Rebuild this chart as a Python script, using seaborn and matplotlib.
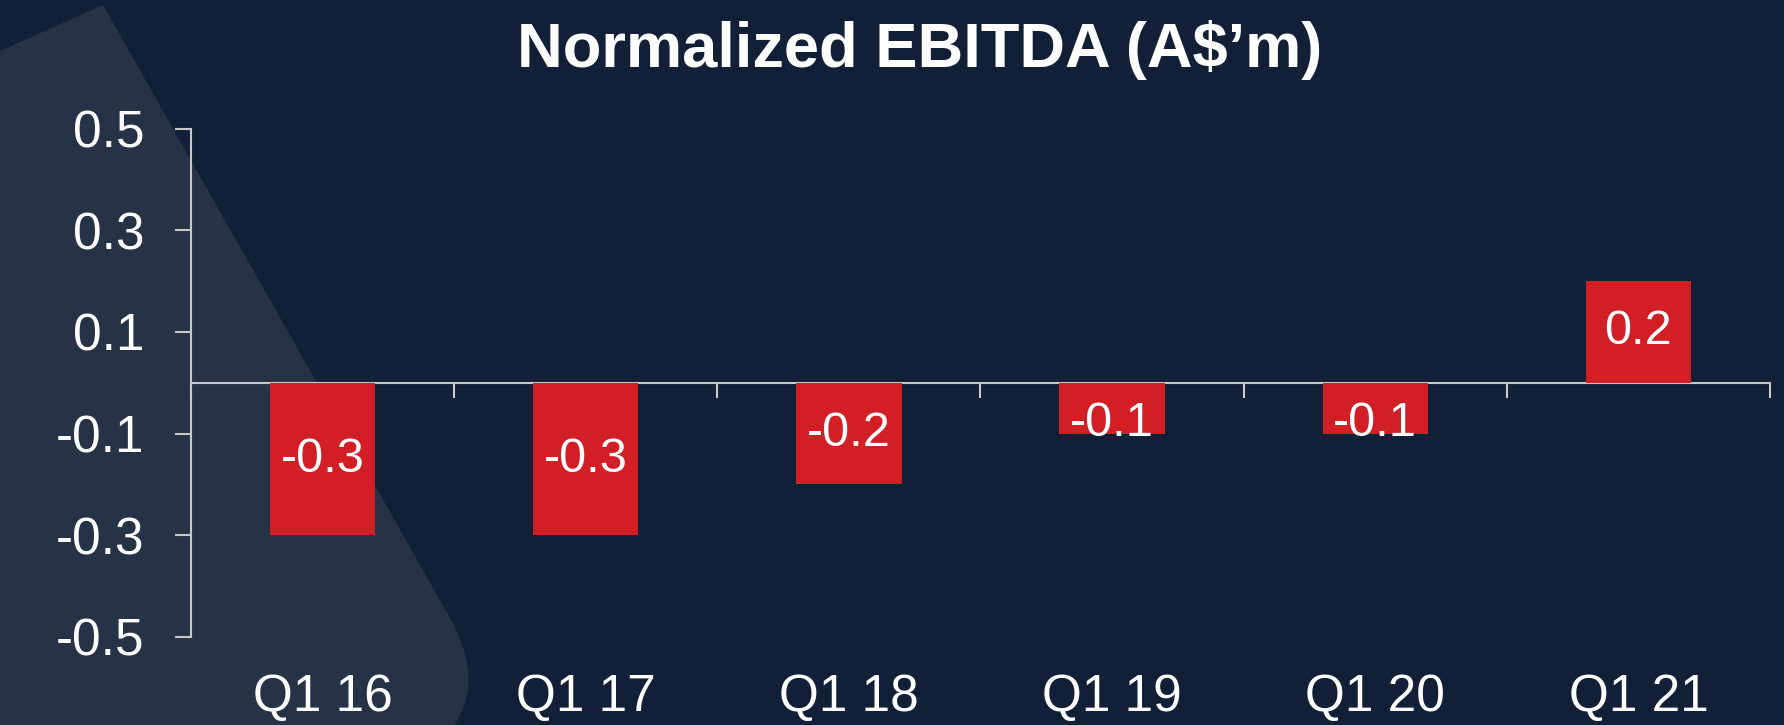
import matplotlib
matplotlib.use("Agg")
import matplotlib.pyplot as plt
import seaborn as sns
from matplotlib.path import Path
from matplotlib.patches import PathPatch

# Chart data
quarters = ["Q1 16", "Q1 17", "Q1 18", "Q1 19", "Q1 20", "Q1 21"]
ebitda = [-0.3, -0.3, -0.2, -0.1, -0.1, 0.2]
ytick_values = [-0.5, -0.3, -0.1, 0.1, 0.3, 0.5]
title = "Normalized EBITDA (A$\u2019m)"

bg = "#122037"
shape_col = "#263347"
bar_col = "#d21f26"
axis_col = "#c8c8c8"

sns.set_theme(style="white")
plt.rcParams["font.family"] = ["Liberation Sans", "DejaVu Sans"]
plt.rcParams["axes.unicode_minus"] = False

W, H = 1784, 725
fig = plt.figure(figsize=(W / 100, H / 100), dpi=100, facecolor=bg)

# lighter decorative shape in the top-left corner (pixel coords -> figure coords)
def fp(x, y):
    return (x / W, 1 - y / H)

verts = [fp(0, 51), fp(103, 5), fp(450, 618), fp(478, 668), fp(464, 706),
         fp(455, 725), fp(0, 725), fp(0, 51)]
codes = [Path.MOVETO, Path.LINETO, Path.LINETO, Path.CURVE3, Path.CURVE3,
         Path.LINETO, Path.LINETO, Path.CLOSEPOLY]
fig.patches.append(PathPatch(Path(verts, codes), transform=fig.transFigure,
                             facecolor=shape_col, edgecolor="none", zorder=-1))

ax = fig.add_axes([191 / W, 1 - 637 / H, (1770 - 191) / W, (637 - 128.5) / H])
ax.set_facecolor("none")
ax.set_zorder(1)

sns.barplot(x=quarters, y=ebitda, color=bar_col, saturation=1, width=0.4,
            linewidth=0, ax=ax, zorder=2)

ax.set_ylim(-0.5, 0.5)
ax.set_xlim(-0.5, len(quarters) - 0.5)
ax.set_xlabel("")
ax.set_ylabel("")

# y axis
ax.set_yticks(ytick_values)
ax.set_yticklabels([f"{v:.1f}" for v in ytick_values])
for side in ["top", "right", "bottom"]:
    ax.spines[side].set_visible(False)
ax.spines["left"].set_color(axis_col)
ax.spines["left"].set_linewidth(1.5)
ax.tick_params(axis="y", direction="out", length=11.5, width=1.5, color=axis_col,
               pad=22, labelsize=37, labelcolor="white", left=True)

# category labels along the bottom
ax.tick_params(axis="x", length=0, pad=26, labelsize=37, labelcolor="white")

# zero line with boundary ticks
sec = ax.secondary_xaxis(0.5)
sec.set_alignment("bottom")
sec.set_xticks([i - 0.5 for i in range(len(quarters) + 1)])
sec.set_xticklabels([])
sec.spines["bottom"].set_color(axis_col)
sec.spines["bottom"].set_linewidth(1.5)
sec.tick_params(axis="x", direction="out", length=11, width=1.5, color=axis_col)

# value labels inside the bars
for i, v in enumerate(ebitda):
    sign = 1 if v > 0 else -1
    ypos = sign * max(abs(v) / 2, 0.08)
    ax.text(i, ypos, f"{v:.1f}", ha="center", va="center", color="white",
            fontsize=35, zorder=3)

fig.text(920 / W, 1 - 67.3 / H, title, ha="center", va="baseline",
         color="white", fontsize=45.5, fontweight="bold")

fig.savefig("out.png", dpi=100, facecolor=bg)
